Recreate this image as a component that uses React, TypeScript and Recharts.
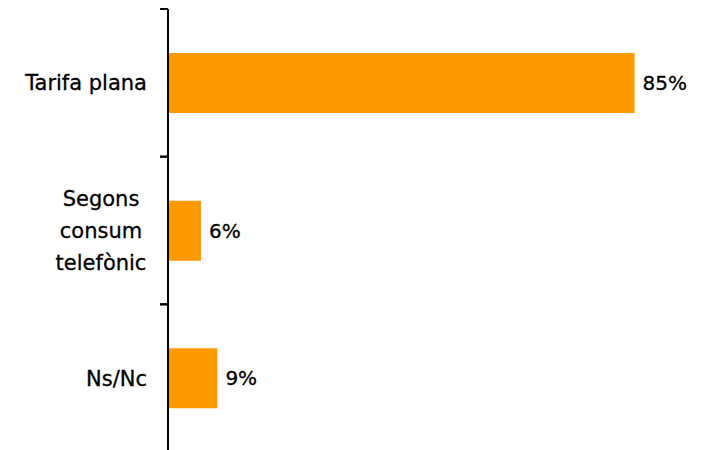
import { BarChart, Bar, XAxis, YAxis, LabelList } from 'recharts'

document.body.style.margin = '0'

const CATEGORIES = ['Tarifa plana', 'Segons consum telefònic', 'Ns/Nc']
const VALUES = [85, 6, 9]

const data = CATEGORIES.map((name, i) => ({ name, value: VALUES[i] }))

const FONT = '"DejaVu Sans", sans-serif'
const TICK_SIZE = 8
const TICK_MARGIN = 13

// labels + tick marks on the band edges (not the centres)
// eslint-disable-next-line @typescript-eslint/no-explicit-any
function CategoryTick(props: any) {
  const { x, y, payload } = props
  const label: string = payload.value
  const half = payload.offset || 0
  const lines = label.length > 14 ? label.split(' ') : [label]
  const lh = 32
  const ax = x + TICK_MARGIN + TICK_SIZE
  const txt = { fontFamily: FONT, fontSize: 21, fill: '#000', stroke: '#000', strokeWidth: 0.3 }
  const marks = (
    <g stroke="#000" strokeWidth={2}>
      <line x1={ax - TICK_SIZE} x2={ax} y1={y - half} y2={y - half} />
      <line x1={ax - TICK_SIZE} x2={ax} y1={y + half} y2={y + half} />
    </g>
  )
  if (lines.length === 1) {
    return (
      <g>
        {marks}
        <text x={x} y={y} dy="0.36em" textAnchor="end" {...txt}>
          {label}
        </text>
      </g>
    )
  }
  const cx = x - 46
  const start = -((lines.length - 1) * lh) / 2
  return (
    <g>
      {marks}
      <text x={cx} y={y} textAnchor="middle" {...txt}>
        {lines.map((l, i) => (
          <tspan key={i} x={cx} y={y + start + i * lh} dy="0.36em">{l}</tspan>
        ))}
      </text>
    </g>
  )
}

export default function App() {
  return (
    <div style={{ width: 704, height: 450, overflow: 'hidden' }}>
      <BarChart
        width={704}
        height={452}
        data={data}
        layout="vertical"
        margin={{ top: 9, right: 42, bottom: 0, left: 0 }}
      >
        <XAxis type="number" domain={[0, 90]} hide />
        <YAxis
          type="category"
          dataKey="name"
          width={168}
          axisLine={{ stroke: '#000', strokeWidth: 2 }}
          tickLine={{ stroke: 'none' }}
          tickSize={TICK_SIZE}
          tickMargin={TICK_MARGIN}
          tick={<CategoryTick />}
          interval={0}
        />
        <Bar dataKey="value" fill="#FF9900" barSize={60} isAnimationActive={false}>
          <LabelList
            dataKey="value"
            position="right"
            offset={8}
            formatter={(v: any) => `${v}%`}
            style={{ fontFamily: FONT, fontSize: 20, fill: '#000', stroke: '#000', strokeWidth: 0.3 }}
          />
        </Bar>
      </BarChart>
    </div>
  )
}
